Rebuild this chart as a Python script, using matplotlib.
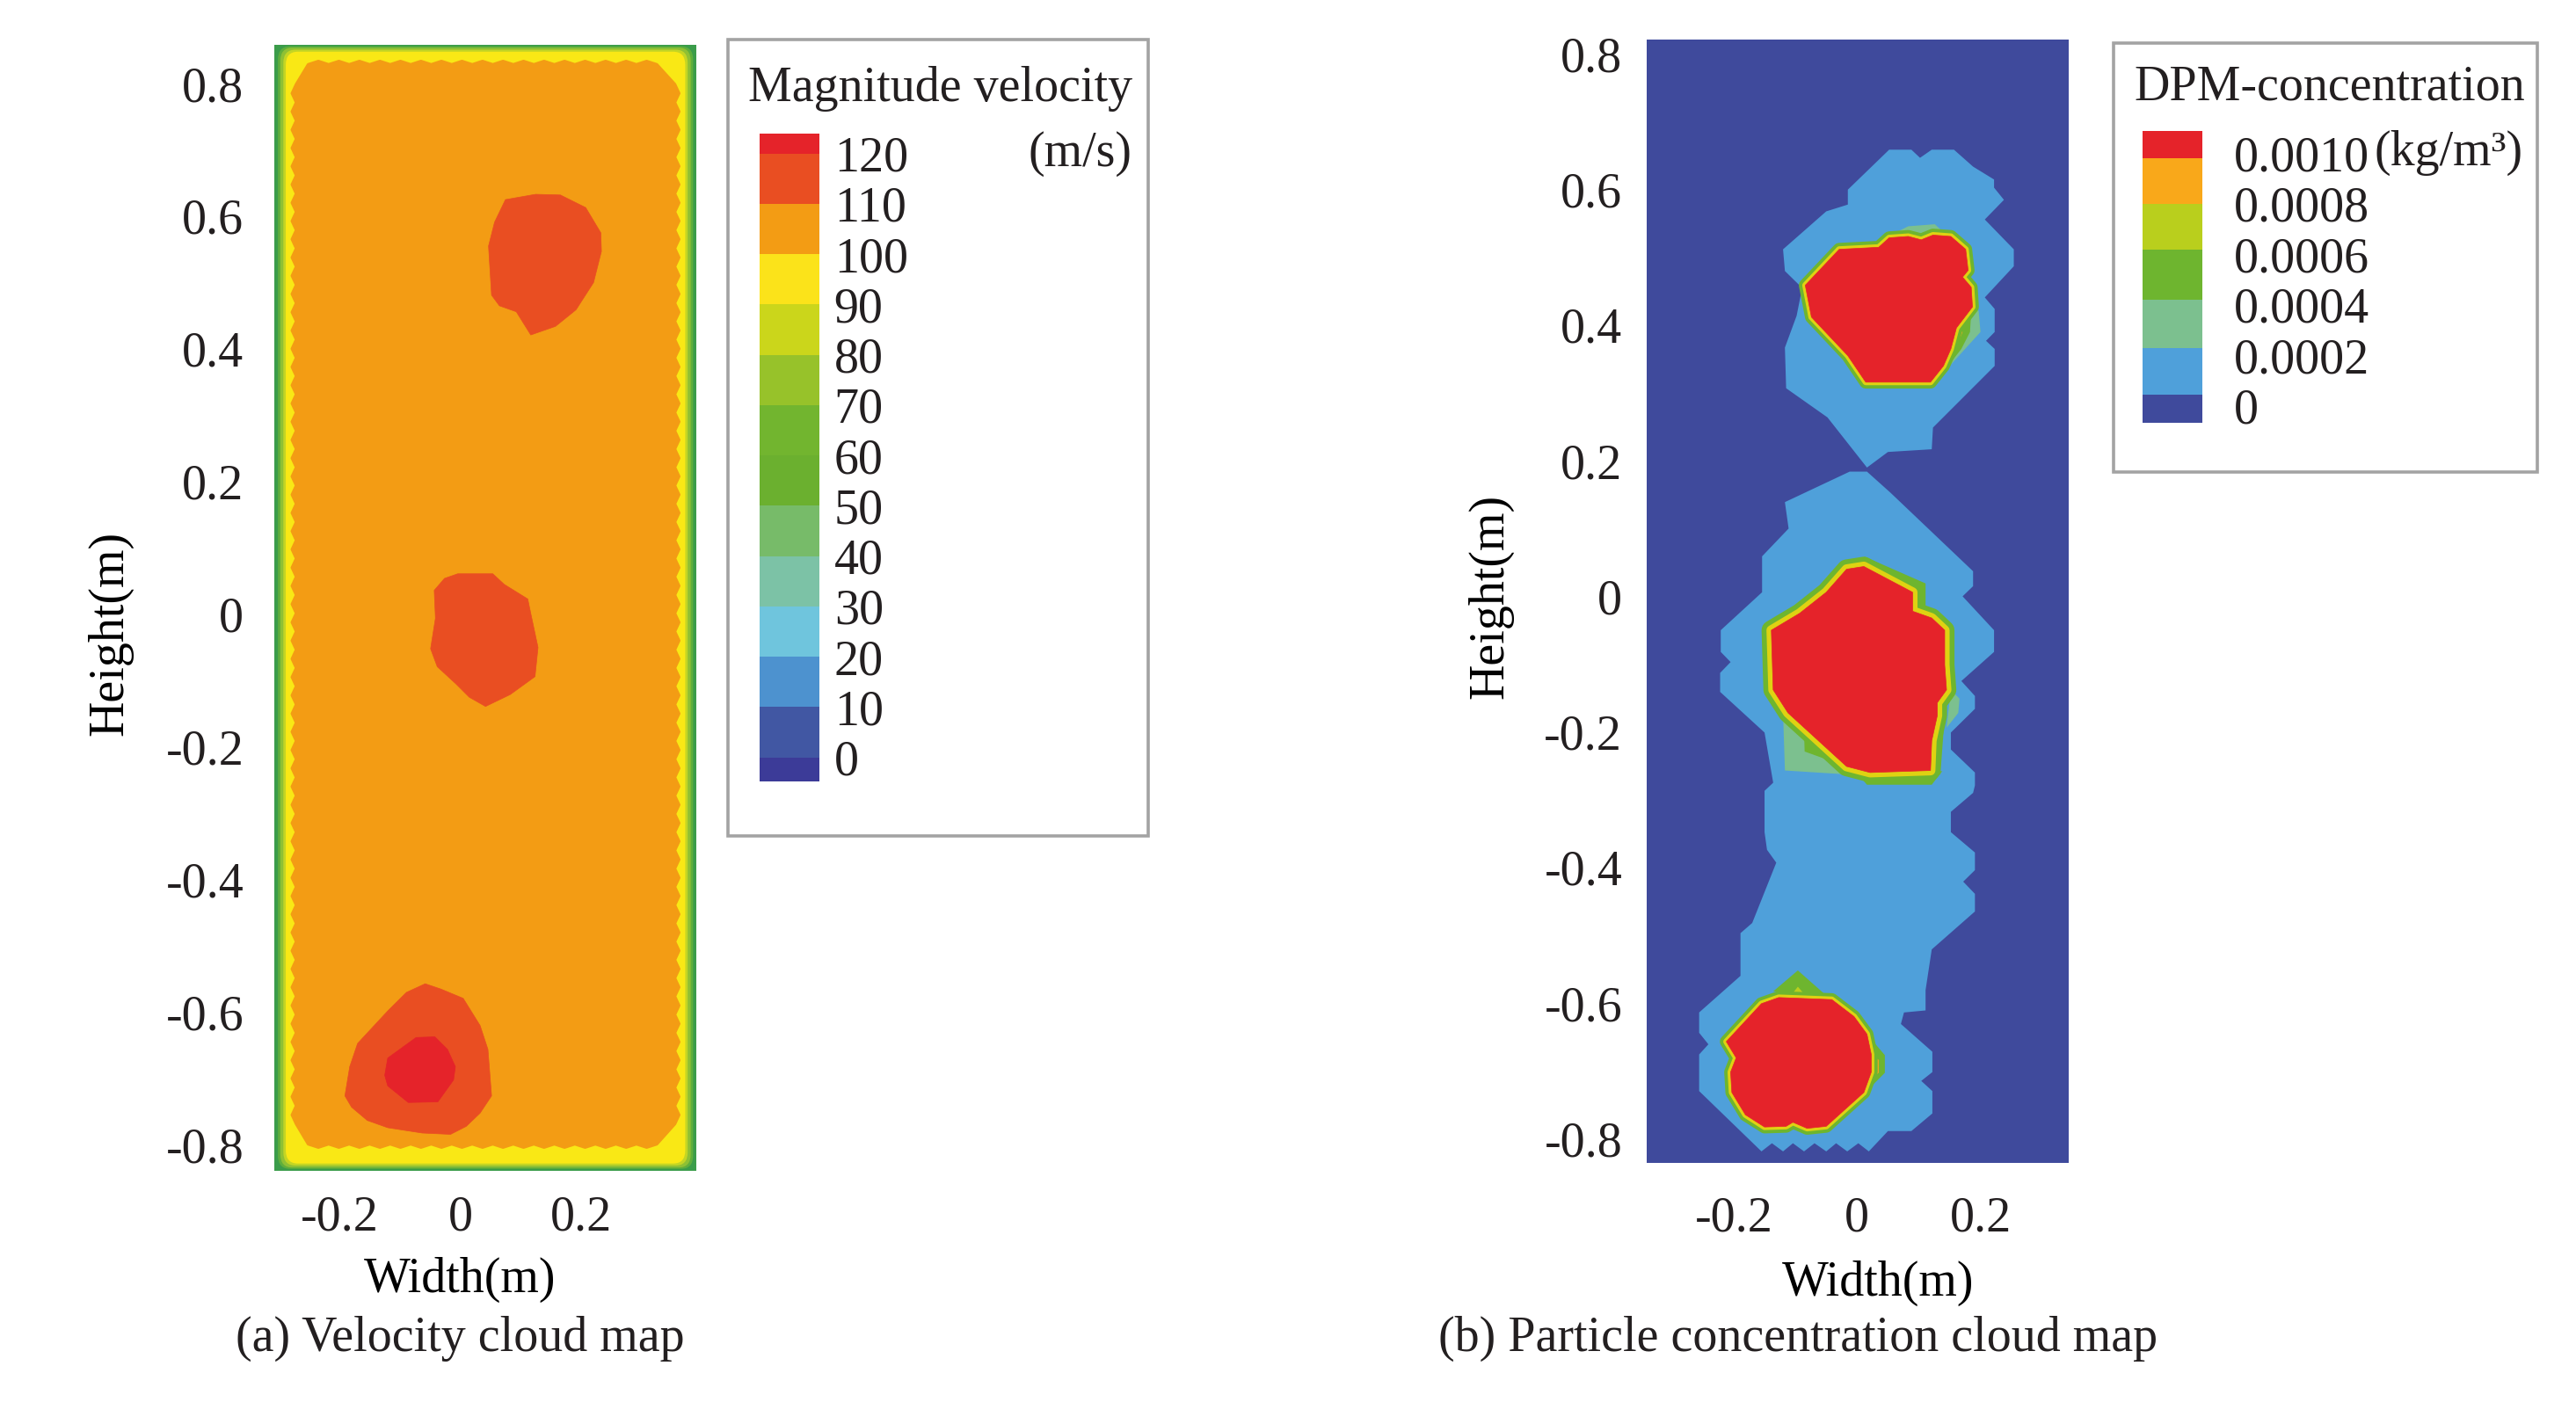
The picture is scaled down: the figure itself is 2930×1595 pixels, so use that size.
import numpy as np
import matplotlib
matplotlib.use('Agg')
import matplotlib.pyplot as plt
from matplotlib.patches import FancyBboxPatch, Rectangle

plt.rcParams['font.family'] = ['Liberation Serif', 'DejaVu Serif']
plt.rcParams['font.size'] = 40.3
plt.rcParams['text.color'] = '#231f20'
plt.rcParams['xtick.color'] = '#231f20'
plt.rcParams['ytick.color'] = '#231f20'

W, H = 2930, 1595

# velocity legend
vel_levels = [120, 110, 100, 90, 80, 70, 60, 50, 40, 30, 20, 10, 0]
vel_edges = [-4.8, 0, 10, 20, 30, 40, 50, 60, 70, 80, 90, 100, 110, 120, 124]
vel_colors = ['#3c3b98', '#4157a3', '#4d92cf', '#6fc5dd', '#7cc2a6', '#77bb69', '#6bb02f',
              '#72b52f', '#97c22a', '#cbd61b', '#fbe31a', '#f39c14', '#e94e22', '#e5232a']

# concentration legend
dpm_levels = [0.0010, 0.0008, 0.0006, 0.0004, 0.0002, 0]
dpm_labels = ['0.0010', '0.0008', '0.0006', '0.0004', '0.0002', '0']
dpm_edges = [-0.000065, 0.000045, 0.00023, 0.00042, 0.000617, 0.0008, 0.00098, 0.001087]
dpm_colors = ['#3f4a9c', '#4fa0da', '#7cc08f', '#6eb52f', '#b9cf1d', '#f9a81a', '#e5232a']

# velocity map, 110 m/s contours and the 120 m/s core
blob_top_x = [0.075, 0.125, 0.166, 0.208, 0.233, 0.234, 0.221, 0.192, 0.158, 0.117, 0.093, 0.065, 0.052, 0.047, 0.057]
blob_top_y = [0.625, 0.633, 0.632, 0.613, 0.575, 0.547, 0.500, 0.459, 0.434, 0.421, 0.456, 0.465, 0.481, 0.555, 0.591]
blob_mid_x = [-0.043, -0.026, -0.004, 0.054, 0.073, 0.112, 0.117, 0.129, 0.124, 0.083, 0.042, 0.015, -0.007, -0.038, -0.049, -0.041]
blob_mid_y = [0.036, 0.054, 0.061, 0.061, 0.045, 0.023, 0.001, -0.050, -0.094, -0.121, -0.139, -0.125, -0.105, -0.079, -0.052, -0.006]
blob_low_x = [-0.058, -0.032, 0.005, 0.033, 0.046, 0.052, 0.033, 0.010, -0.016, -0.063, -0.120, -0.154, -0.180, -0.191, -0.183, -0.170, -0.120, -0.089]
blob_low_y = [-0.557, -0.565, -0.579, -0.620, -0.656, -0.726, -0.752, -0.772, -0.784, -0.782, -0.774, -0.763, -0.743, -0.726, -0.682, -0.647, -0.598, -0.570]
core_low_x = [-0.073, -0.042, -0.021, -0.008, -0.011, -0.037, -0.086, -0.120, -0.125, -0.120]
core_low_y = [-0.638, -0.637, -0.656, -0.682, -0.702, -0.735, -0.736, -0.711, -0.695, -0.669]

# concentration map, 0.0002 contours
plume_top_x = [0.052, 0.088, 0.102, 0.121, 0.157, 0.188, 0.222, 0.222, 0.238, 0.207, 0.254, 0.254, 0.207, 0.223, 0.223, 0.209, 0.223, 0.223,
               0.123, 0.121, 0.050, 0.016, -0.048, -0.115, -0.117, -0.098, -0.089, -0.117, -0.120, -0.050, -0.015, -0.015]
plume_top_y = [0.659, 0.659, 0.647, 0.659, 0.659, 0.634, 0.615, 0.603, 0.585, 0.556, 0.512, 0.487, 0.441, 0.424, 0.390, 0.377, 0.365, 0.340,
               0.249, 0.217, 0.213, 0.190, 0.264, 0.307, 0.367, 0.414, 0.455, 0.480, 0.512, 0.568, 0.578, 0.600]
plume_low_x = [0.016, 0.054, 0.188, 0.188, 0.171, 0.222, 0.222, 0.169, 0.191, 0.191, 0.152, 0.152, 0.191,
               0.191, 0.188, 0.152, 0.152, 0.191, 0.191, 0.172, 0.191, 0.191, 0.121, 0.111, 0.111, 0.076, 0.071,
               0.122, 0.122, 0.104, 0.122, 0.122, 0.088, 0.050, 0.019,
               0.002, -0.016, -0.034, -0.050, -0.069, -0.086, -0.104, -0.120, -0.138, -0.155,
               -0.256, -0.256, -0.241, -0.256, -0.256, -0.189, -0.189, -0.170, -0.131, -0.146, -0.150, -0.150, -0.136,
               -0.150, -0.222, -0.222, -0.205, -0.221, -0.221, -0.154, -0.154, -0.111, -0.117, -0.012]
plume_low_y = [0.184, 0.153, 0.037, 0.015, 0.000, -0.050, -0.082, -0.125, -0.147, -0.166, -0.201, -0.226, -0.260,
               -0.279, -0.290, -0.318, -0.348, -0.378, -0.404, -0.421, -0.439, -0.465, -0.521, -0.581, -0.611, -0.614, -0.631,
               -0.672, -0.702, -0.715, -0.730, -0.763, -0.789, -0.789, -0.819,
               -0.807, -0.819, -0.807, -0.819, -0.807, -0.819, -0.807, -0.819, -0.807, -0.819,
               -0.730, -0.676, -0.661, -0.644, -0.614, -0.560, -0.497, -0.482, -0.393, -0.374, -0.348, -0.287, -0.275,
               -0.201, -0.141, -0.113, -0.097, -0.082, -0.050, 0.006, 0.059, 0.100, 0.139, 0.184]

# concentration map, 0.0010 cores
core_a_x = [-0.084, -0.029, 0.035, 0.052, 0.083, 0.104, 0.123, 0.152, 0.176, 0.180, 0.171, 0.185, 0.187, 0.161, 0.152, 0.140, 0.119, 0.014, -0.015, -0.074]
core_a_y = [0.459, 0.512, 0.515, 0.529, 0.531, 0.526, 0.533, 0.531, 0.512, 0.481, 0.471, 0.456, 0.427, 0.396, 0.365, 0.340, 0.316, 0.316, 0.355, 0.412]
core_b_x = [0.011, 0.090, 0.090, 0.121, 0.142, 0.142, 0.145, 0.130, 0.130, 0.121, 0.119, 0.021, -0.017, -0.112, -0.136, -0.139, -0.093, -0.050, -0.017]
core_b_y = [0.044, 0.006, -0.022, -0.032, -0.050, -0.101, -0.138, -0.157, -0.176, -0.213, -0.257, -0.260, -0.251, -0.172, -0.138, -0.050, -0.025, 0.006, 0.040]
core_c_x = [-0.212, -0.155, -0.127, -0.041, -0.005, 0.016, 0.023, 0.023, 0.011, -0.050, -0.081, -0.104, -0.115, -0.150, -0.181, -0.203, -0.205, -0.196]
core_c_y = [-0.657, -0.601, -0.592, -0.595, -0.620, -0.646, -0.676, -0.702, -0.732, -0.782, -0.785, -0.776, -0.782, -0.783, -0.765, -0.732, -0.702, -0.681]

# concentration map, uneven bands beside the cores: (x, y, band index)
side_patches = [
    ([0.083, 0.126, 0.145, 0.050], [0.546, 0.549, 0.533, 0.531], 2),
    ([0.188, 0.197, 0.200, 0.178, 0.150, 0.161], [0.427, 0.421, 0.390, 0.368, 0.340, 0.396], 2),
    ([0.185, 0.183, 0.169, 0.150, 0.161], [0.421, 0.390, 0.365, 0.343, 0.396], 3),
    ([0.161, 0.171, 0.161, 0.150], [0.396, 0.390, 0.368, 0.349], 5),
    ([-0.120, -0.117, -0.012, -0.112], [-0.172, -0.257, -0.263, -0.172], 2),
    ([-0.086, -0.085, -0.027, -0.060], [-0.198, -0.229, -0.248, -0.215], 3),
    ([0.152, 0.166, 0.164, 0.145], [-0.138, -0.151, -0.172, -0.194], 2),
    ([0.145, 0.140, 0.135, 0.119, 0.121, 0.130], [-0.157, -0.201, -0.263, -0.263, -0.213, -0.157], 3),
    ([0.011, 0.111, 0.111, 0.090], [0.059, 0.019, -0.025, -0.025], 3),
    ([0.011, 0.100, 0.100, 0.090], [0.050, 0.012, -0.025, -0.025], 5),
    ([-0.003, 0.016, 0.121, 0.138], [-0.258, -0.278, -0.278, -0.258], 3),
    ([0.016, 0.119, 0.125, 0.005], [-0.260, -0.260, -0.266, -0.266], 5),
    ([-0.096, -0.136, -0.050], [-0.552, -0.583, -0.589], 3),
    ([-0.096, -0.110, -0.081], [-0.576, -0.592, -0.592], 4),
    ([0.045, 0.045, 0.021, 0.016], [-0.677, -0.703, -0.725, -0.646], 3),
    ([0.035, 0.035, 0.023, 0.021], [-0.684, -0.703, -0.712, -0.673], 5),
]

x_ticks = [-0.2, 0, 0.2]
x_tick_labels = ['-0.2', '0', '0.2']
y_ticks = [0.8, 0.6, 0.4, 0.2, 0, -0.2, -0.4, -0.6, -0.8]
y_tick_labels = ['0.8', '0.6', '0.4', '0.2', '0', '-0.2', '-0.4', '-0.6', '-0.8']


def px_axes(fig, x0, y0, x1, y1):
    return fig.add_axes([x0 / W, 1 - y1 / H, (x1 - x0) / W, (y1 - y0) / H])


def setup_map(ax, xlim, ylim, xpad, ypad, xlabel_at, ylabel_at):
    ax.set_xlim(xlim)
    ax.set_ylim(ylim)
    ax.set_xticks(x_ticks, x_tick_labels)
    ax.set_yticks(y_ticks, y_tick_labels)
    ax.tick_params(axis='x', length=0, pad=xpad)
    ax.tick_params(axis='y', length=0, pad=ypad)
    for s in ax.spines.values():
        s.set_visible(False)
    ax.set_xlabel('Width(m)', va='center', ha='center')
    ax.set_ylabel('Height(m)', va='center', ha='center')
    ax.xaxis.set_label_coords(xlabel_at[0] / W, 1 - xlabel_at[1] / H, transform=fig.transFigure)
    ax.yaxis.set_label_coords(ylabel_at[0] / W, 1 - ylabel_at[1] / H, transform=fig.transFigure)


def legend_box(fig, x0, y0, x1, y1):
    fig.add_artist(Rectangle((x0 / W, 1 - y1 / H), (x1 - x0) / W, (y1 - y0) / H, transform=fig.transFigure,
                             facecolor='white', edgecolor='#a3a3a3', lw=2.6, zorder=-1))


def color_strip(fig, box, edges, colors, ticks, labels, pad):
    cax = px_axes(fig, *box)
    cax.bar(0, np.diff(edges), bottom=edges[:-1], width=1, color=colors, linewidth=0)
    cax.set_xlim(-0.5, 0.5)
    cax.set_ylim(edges[0], edges[-1])
    cax.set_xticks([])
    cax.yaxis.tick_right()
    cax.set_yticks(ticks, labels)
    cax.tick_params(axis='y', length=0, pad=pad)
    for s in cax.spines.values():
        s.set_visible(False)
    return cax


def scalloped_outline(left, right, bottom, top, pitch_x, pitch_y, amp_x, amp_y):
    # mesh steps along the contour next to the walls
    xs = np.arange(left + 0.02, right - 0.015, pitch_x / 2)
    ys = np.arange(top - 0.03, bottom + 0.02, -pitch_y / 2)
    vx, vy = [], []
    for i, x in enumerate(xs):
        vx.append(x)
        vy.append(top + amp_y * (i % 2))
    for i, y in enumerate(ys):
        vx.append(right + amp_x * (i % 2))
        vy.append(y)
    for i, x in enumerate(xs[::-1]):
        vx.append(x)
        vy.append(bottom - amp_y * (i % 2))
    for i, y in enumerate(ys[::-1]):
        vx.append(left - amp_x * (i % 2))
        vy.append(y)
    return vx, vy


def draw_core(ax, x, y, green_lw, yellow_lw):
    ax.fill(x, y, facecolor=dpm_colors[3], edgecolor=dpm_colors[3], lw=green_lw, joinstyle='round')
    ax.fill(x, y, facecolor=dpm_colors[4], edgecolor='#dfd212', lw=yellow_lw, joinstyle='round')
    ax.fill(x, y, color=dpm_colors[6], lw=0.5)


fig = plt.figure(figsize=(W / 100, H / 100), dpi=100, facecolor='white')

# (a) velocity map
ax1 = px_axes(fig, 312, 50.5, 792.5, 1332)
xlim1 = (-0.308, 0.392)
ylim1 = (-0.839, 0.859)
ax1.set_facecolor('#3b9c4a')
wall_bands = [(0.006, 0.003, '#5fae3c'), (0.010, 0.005, '#8fc034'), (0.015, 0.008, '#c3d524'), (0.019, 0.011, '#f9e815')]
for dx, dy, c in wall_bands:
    ax1.add_patch(FancyBboxPatch((xlim1[0] + dx, ylim1[0] + dy), xlim1[1] - xlim1[0] - 2 * dx, ylim1[1] - ylim1[0] - 2 * dy,
                                 boxstyle='round,pad=0,rounding_size=0.02', facecolor=c, edgecolor='none'))
sx, sy = scalloped_outline(-0.272, 0.356, -0.799, 0.829, 0.034, 0.0275, 0.007, 0.005)
ax1.fill(sx, sy, facecolor=vel_colors[11], edgecolor=vel_colors[11], lw=2, joinstyle='round')
ax1.fill(blob_top_x, blob_top_y, color=vel_colors[12], lw=0.5)
ax1.fill(blob_mid_x, blob_mid_y, color=vel_colors[12], lw=0.5)
ax1.fill(blob_low_x, blob_low_y, color=vel_colors[12], lw=0.5)
ax1.fill(core_low_x, core_low_y, color=vel_colors[13], lw=0.5)
setup_map(ax1, xlim1, ylim1, 20, 25, (523, 1456), (125, 720))

legend_box(fig, 828, 45, 1306, 951)
color_strip(fig, (864, 151.6, 932, 889), vel_edges, vel_colors, vel_levels, [str(v) for v in vel_levels], 12)
fig.text(1288 / W, 1 - 101 / H, 'Magnitude velocity', ha='right', va='center')
fig.text(1288 / W, 1 - 175 / H, '(m/s)', ha='right', va='center')
fig.text(523 / W, 1 - 1523 / H, '(a) Velocity cloud map', ha='center', va='center')

# (b) concentration map
ax2 = px_axes(fig, 1873, 45, 2353, 1323)
ax2.set_facecolor(dpm_colors[0])
ax2.fill(plume_top_x, plume_top_y, color=dpm_colors[1], lw=0)
ax2.fill(plume_low_x, plume_low_y, color=dpm_colors[1], lw=0)
for px, py, band in side_patches:
    ax2.fill(px, py, color=dpm_colors[band], lw=0)
draw_core(ax2, core_a_x, core_a_y, 10.5, 5)
draw_core(ax2, core_b_x, core_b_y, 16, 8)
draw_core(ax2, core_c_x, core_c_y, 10.5, 5)
setup_map(ax2, (-0.341, 0.343), (-0.836, 0.8215), 27, 20, (2136, 1460), (1695, 678))

legend_box(fig, 2404, 49, 2886, 537)
color_strip(fig, (2437, 149, 2505, 480.6), dpm_edges, dpm_colors, dpm_levels, dpm_labels, 26)
fig.text(2650 / W, 1 - 100 / H, 'DPM-concentration', ha='center', va='center')
fig.text(2870 / W, 1 - 174 / H, '(kg/m³)', ha='right', va='center')
fig.text(2045 / W, 1 - 1523 / H, '(b) Particle concentration cloud map', ha='center', va='center')

fig.savefig('out.png', dpi=100)
